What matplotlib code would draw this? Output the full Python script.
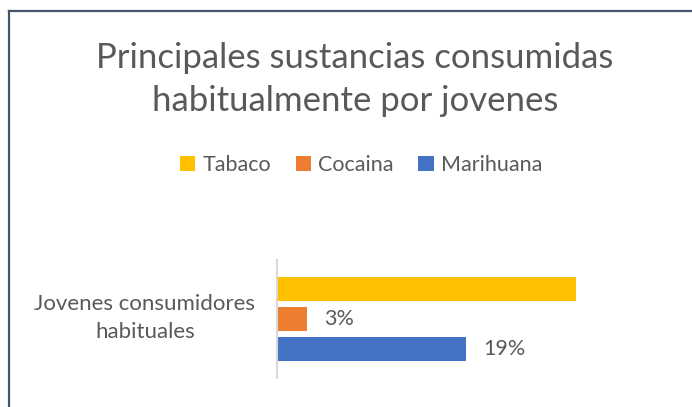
import numpy as np
import matplotlib
matplotlib.use("Agg")
import matplotlib.pyplot as plt
from matplotlib.lines import Line2D

# datos
categoria = "Jovenes consumidores\nhabituales"
sustancias = ["Tabaco", "Cocaina", "Marihuana"]
porcentajes = [30, 3, 19]
etiquetas = ["", "3%", "19%"]
colores = ["#FFC000", "#ED7D31", "#4472C4"]

plt.rcParams["font.family"] = ["Lato", "DejaVu Sans"]
gris = "#595959"

fig = plt.figure(figsize=(6.92, 4.07), dpi=100)
W, H = 692, 407

# marco del grafico (solo se ve arriba y a la izquierda)
fig.add_artist(Line2D([8.5 / W, 8.5 / W], [0, 1 - 11 / H], color="#44546A", lw=1.6))
fig.add_artist(Line2D([8.5 / W, 1], [1 - 11 / H, 1 - 11 / H], color="#44546A", lw=1.6))

fig.text(355 / W, 1 - 58 / H, "Principales sustancias consumidas", ha="center",
         va="center", fontsize=25, color=gris)
fig.text(355 / W, 1 - 101 / H, "habitualmente por jovenes", ha="center",
         va="center", fontsize=25, color=gris)

ax = fig.add_axes([277 / W, 1 - 378 / H, 398 / W, 118 / H])
alto = 24 / 118
paso = 30 / 118
for i, (s, v, c, e) in enumerate(zip(sustancias, porcentajes, colores, etiquetas)):
    y = paso * (1 - i)
    ax.barh(y, v, height=alto, color=c, label=s)
    if e:
        ax.text(v + 1.7, y, e, va="center", ha="left", fontsize=15.5, color=gris)

ax.set_xlim(0, 40)
ax.set_ylim(-0.5, 0.5)
ax.set_xticks([])
ax.set_yticks([])
for lado in ["top", "right", "bottom"]:
    ax.spines[lado].set_visible(False)
ax.spines["left"].set_color("#D9D9D9")
ax.spines["left"].set_linewidth(1.5)

# etiqueta de la categoria
fig.text(145 / W, 1 - 318 / H, categoria, ha="center", va="center",
         multialignment="center", fontsize=16, color=gris, linespacing=1.45)

handles, labels = ax.get_legend_handles_labels()
fig.legend(handles, labels, loc="center", bbox_to_anchor=(361 / W, 1 - 165 / H),
           ncol=3, frameon=False, fontsize=15.5, handlelength=0.7, handleheight=0.7,
           handletextpad=0.35, columnspacing=1.15, labelcolor=gris)

fig.savefig("out.png", dpi=100)
